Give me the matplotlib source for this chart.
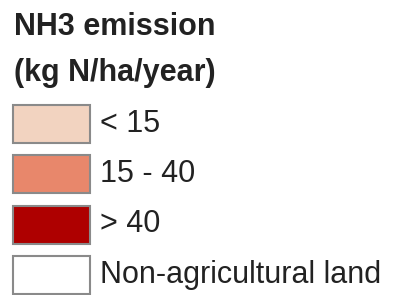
import matplotlib
matplotlib.use("Agg")
import matplotlib.pyplot as plt

title_lines = ["NH3 emission", "(kg N/ha/year)"]
labels = ["< 15", "15 - 40", "> 40", "Non-agricultural land"]
colors = ["#F2D3C0", "#E8876B", "#AE0000", "#FFFFFF"]

plt.rcParams['font.family'] = ['Liberation Sans', 'DejaVu Sans']
fig = plt.figure(figsize=(3.94, 2.95), dpi=100)
ax = fig.add_axes([0, 0, 1, 1])
ax.set_xlim(0, 394)
ax.set_ylim(295, 0)
ax.axis('off')

ax.text(14, 27, title_lines[0], fontsize=22, fontweight='bold', va='center', ha='left', color='#222222')
ax.text(14, 73, title_lines[1], fontsize=22, fontweight='bold', va='center', ha='left', color='#222222')

y0 = 123.5
step = 50.5
ys = [y0 + i * step for i in range(len(labels))]
ax.barh(ys, [77] * len(labels), left=13, height=38, color=colors,
        edgecolor='#8a8a8a', linewidth=1.5)
for y, lab in zip(ys, labels):
    ax.text(100, y, lab, fontsize=22, va='center', ha='left', color='#222222')

fig.savefig("out.png", dpi=100)
